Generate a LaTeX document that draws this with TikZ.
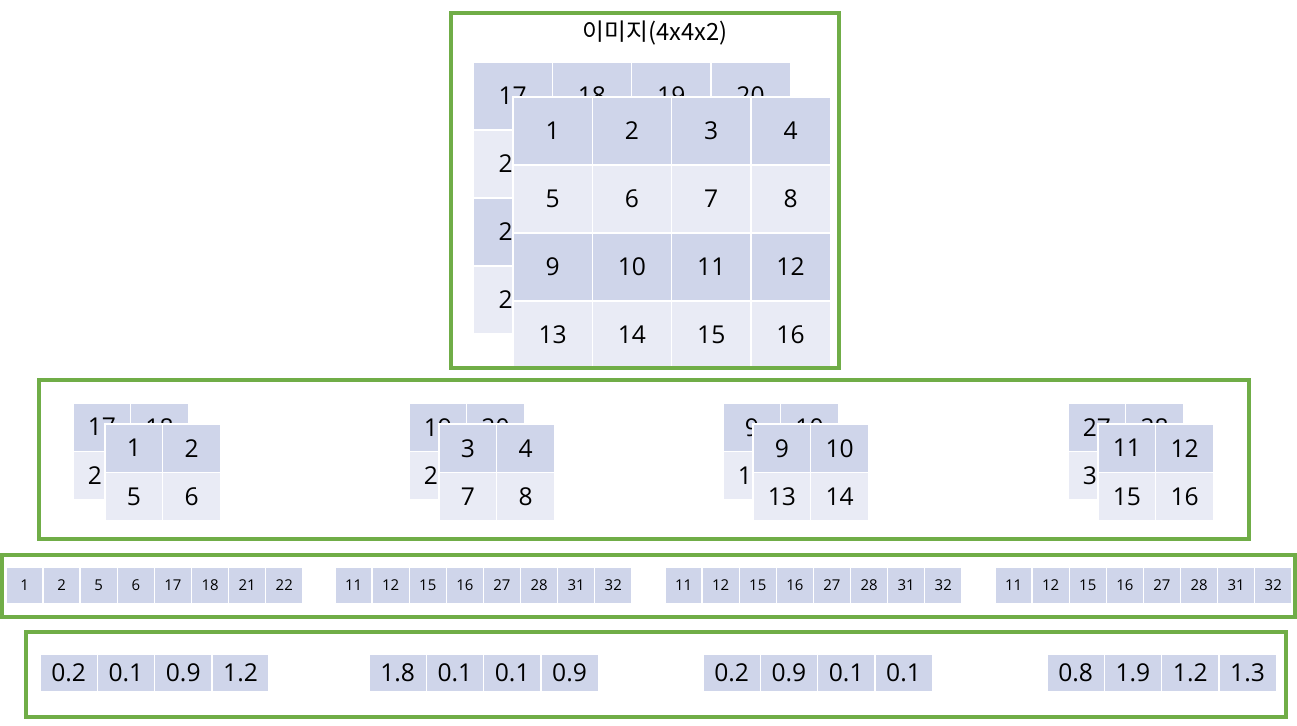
\documentclass[tikz,border=0pt]{standalone}
\usepackage{fontspec}
\setmainfont{Open Sans}
\newfontfamily\krfont{Noto Sans CJK KR}
\definecolor{celldark}{HTML}{CFD5EA}
\definecolor{celllight}{HTML}{E9EBF5}
\definecolor{boxgreen}{HTML}{70AD47}
\tikzset{
  cell/.style={shape=rectangle, draw=white, line width=0.8pt, inner sep=0pt, text=black},
  bigcell/.style={cell, minimum width=1.586cm, minimum height=1.36cm, font=\fontsize{14}{16}\selectfont},
  midcell/.style={cell, minimum width=1.154cm, minimum height=0.968cm, font=\fontsize{14}{16}\selectfont},
  flatcell/.style={cell, fill=celldark, minimum width=0.742cm, minimum height=0.74cm, font=\fontsize{8.5}{10}\selectfont},
  outcell/.style={cell, fill=celldark, minimum width=1.146cm, minimum height=0.76cm, font=\fontsize{14}{16}\selectfont},
  greenbox/.style={draw=boxgreen, line width=2.1pt},
}
\begin{document}
\begin{tikzpicture}[x=0.02cm, y=-0.02cm]
	\useasboundingbox (0,0) rectangle (1297,725);
	% Image (4x4x2): back channel, then front channel
	\node[font=\krfont\fontsize{13.5}{15}\selectfont] (title) at (655,33) {이미지(4x4x2)};
	\foreach \r in {1,...,4}{
		\foreach \c in {1,...,4}{
			\ifodd\r\def\tone{celldark}\else\def\tone{celllight}\fi
			\pgfmathtruncatemacro{\n}{16+4*(\r-1)+\c}
			\node[bigcell, fill=\tone] (tb-\r-\c) at ({473+(\c-0.5)*79.3}, {62+(\r-0.5)*68}) {\n};
		}
	}
	\foreach \r in {1,...,4}{
		\foreach \c in {1,...,4}{
			\ifodd\r\def\tone{celldark}\else\def\tone{celllight}\fi
			\pgfmathtruncatemacro{\n}{4*(\r-1)+\c}
			\node[bigcell, fill=\tone] (tf-\r-\c) at ({513+(\c-0.5)*79.3}, {97+(\r-0.5)*68}) {\n};
		}
	}
	% 2x2 blocks
	\foreach \g/\gx/\dx/\ba/\bb/\bc/\bd/\fa/\fb/\fc/\fd in {1/73/32/17/18/21/22/1/2/5/6, 2/409/30/19/20/23/24/3/4/7/8, 3/723/30/9/10/13/14/9/10/13/14, 4/1068/30/27/28/31/32/11/12/15/16}{
		\node[midcell, fill=celldark] (g\g-b-1-1) at ({\gx+28.85}, 427.2) {\ba};
		\node[midcell, fill=celldark] (g\g-b-1-2) at ({\gx+86.55}, 427.2) {\bb};
		\node[midcell, fill=celllight] (g\g-b-2-1) at ({\gx+28.85}, 475.6) {\bc};
		\node[midcell, fill=celllight] (g\g-b-2-2) at ({\gx+86.55}, 475.6) {\bd};
		\node[midcell, fill=celldark] (g\g-f-1-1) at ({\gx+\dx+28.85}, 448.2) {\fa};
		\node[midcell, fill=celldark] (g\g-f-1-2) at ({\gx+\dx+86.55}, 448.2) {\fb};
		\node[midcell, fill=celllight] (g\g-f-2-1) at ({\gx+\dx+28.85}, 496.6) {\fc};
		\node[midcell, fill=celllight] (g\g-f-2-2) at ({\gx+\dx+86.55}, 496.6) {\fd};
	}
	% flattened rows
	\foreach \g/\gx/\labels in {1/6/{1,2,5,6,17,18,21,22}, 2/335/{11,12,15,16,27,28,31,32}, 3/665/{11,12,15,16,27,28,31,32}, 4/995/{11,12,15,16,27,28,31,32}}{
		\foreach \t [count=\i] in \labels{
			\node[flatcell] (flat-\g-\i) at ({\gx+(\i-0.5)*37.1}, 585.5) {\t};
		}
	}
	% outputs
	\foreach \g/\gx/\labels in {1/40/{0.2,0.1,0.9,1.2}, 2/369/{1.8,0.1,0.1,0.9}, 3/703/{0.2,0.9,0.1,0.1}, 4/1047/{0.8,1.9,1.2,1.3}}{
		\foreach \t [count=\i] in \labels{
			\node[outcell] (out-\g-\i) at ({\gx+(\i-0.5)*57.3}, 673) {\t};
		}
	}
	% frames
	\draw[greenbox] (451,13) rectangle (839,368);
	\draw[greenbox] (39,380) rectangle (1249,539);
	\draw[greenbox] (2,555) rectangle (1295,617);
	\draw[greenbox] (26,632) rectangle (1286,717);
\end{tikzpicture}
\end{document}
